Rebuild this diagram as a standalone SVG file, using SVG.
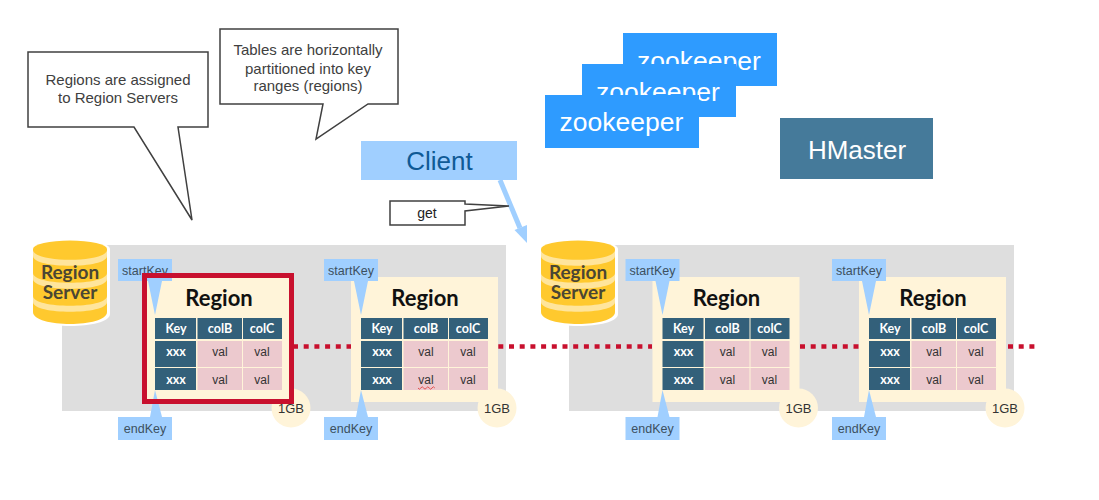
<svg xmlns="http://www.w3.org/2000/svg" width="1099" height="500" viewBox="0 0 1099 500">
<style>
text{font-family:"Liberation Sans",Arial,sans-serif;text-anchor:middle}
.call{fill:#fff;stroke:#404040;stroke-width:1.5;stroke-linejoin:miter}
.ct{font-size:15px;fill:#404040}
.panel{fill:#dedede}
.cream{fill:#fff4d9}
.k{fill:#a0cfff}
.kt{font-size:12.5px;fill:#3c5060}
.hd{fill:#33607a}
.cell{fill:#ecc9ce}
.rt{font-family:Lato,"Liberation Sans",sans-serif;font-weight:700;font-size:22px;fill:#111}
.th{font-family:Lato,"Liberation Sans",sans-serif;font-weight:700;font-size:12.5px;fill:#fff}
.td{font-size:12px;fill:#333}
.gb{font-size:13px;fill:#333}
.z{fill:#2e9bff}
.zt{font-size:26.500px;fill:#fff}
.big{font-size:26px}
.rs{font-family:Lato,"Liberation Sans",sans-serif;font-weight:700;font-size:19px;fill:#4a4634}
.y{fill:#ffc92e}.yl{fill:#ffe59c}
</style>
<defs>
<g id="regionBody">
<rect class="cream" x="-10" y="-41" width="147" height="125"/>
<circle class="cream" cx="136" cy="90" r="19.500"/>
<text class="gb" x="136" y="95">1GB</text>
<polygon class="k" points="-7,-37 7,-37 0,-3"/>
<polygon class="k" points="-5,99 7,99 0,72"/>
<rect class="k" x="-37" y="-59" width="54" height="22"/>
<text class="kt" x="-10" y="-43">startKey</text>
<rect class="k" x="-37" y="99" width="54" height="23"/>
<text class="kt" x="-10" y="115">endKey</text>
<text class="rt" x="64" y="-12">Region</text>
<rect class="hd" x="0" y="0" width="41" height="21"/>
<rect class="hd" x="42.500" y="0" width="44.500" height="21"/>
<rect class="hd" x="88" y="0" width="39" height="21"/>
<rect class="hd" x="0" y="23" width="41" height="26"/>
<rect class="hd" x="0" y="50" width="41" height="22"/>
<rect class="cell" x="42.500" y="23" width="44.500" height="26"/>
<rect class="cell" x="88" y="23" width="39" height="26"/>
<rect class="cell" x="42.500" y="50" width="44.500" height="22"/>
<rect class="cell" x="88" y="50" width="39" height="22"/>
<text class="th" x="21" y="15">Key</text>
<text class="th" x="65" y="14.500">colB</text>
<text class="th" x="107" y="14.500">colC</text>
<text class="th" x="21" y="38">xxx</text>
<text class="th" x="21" y="66">xxx</text>
<text class="td" x="65" y="38">val</text>
<text class="td" x="107" y="38">val</text>
<text class="td" x="65" y="66">val</text>
<text class="td" x="107" y="66">val</text>
</g>
<g id="cyl">
<path fill="#fff" d="M-3,9 C-3,-3 77,-3 77,9 V74 C77,90 -3,90 -3,74 Z"/>
<path class="y" d="M0,60 V72 C0,88 74,88 74,72 V60 Z"/>
<path class="yl" d="M0,56 V62 C0,75 74,75 74,62 V56 Z"/>
<path class="y" d="M0,38 V56 C0,69 74,69 74,56 V38 Z"/>
<path class="yl" d="M0,33 V39 C0,52 74,52 74,39 V33 Z"/>
<path class="y" d="M0,16 V33 C0,46 74,46 74,33 V16 Z"/>
<path class="yl" d="M0,9 V16 C0,29 74,29 74,16 V9 Z"/>
<path class="y" d="M0,9 V10 C0,23 74,23 74,10 V9 Z"/>
<ellipse class="y" cx="37" cy="9" rx="37" ry="8.500"/>
<text class="rs" x="37" y="39">Region</text>
<text class="rs" x="37" y="59">Server</text>
</g>
</defs>

<g id="panels">
<rect class="panel" x="62" y="245" width="444" height="166"/>
<rect class="panel" x="569" y="245" width="445" height="166"/>
</g>

<g id="connectors">
<path d="M293,346.500 H351 M498.300,346.500 H652 M800,346.500 H859 M1008,346.500 H1037" fill="none" stroke="#c8102e" stroke-width="4.500" stroke-dasharray="5 5.700"/>
<path d="M500,180 L520,228" stroke="#a0cfff" stroke-width="5" fill="none"/>
<polygon fill="#a0cfff" points="527,243 514.500,230 527,225"/>
</g>

<g id="region-server-1" transform="translate(33,240)"><use href="#cyl"/></g>
<g id="region-server-2" transform="translate(541,240)"><use href="#cyl"/></g>

<g id="region-2" transform="translate(361,318)"><use href="#regionBody"/>
<path d="M57,70 q1.400,2.400 2.800,0 t2.800,0 t2.800,0 t2.800,0 t2.800,0 t2.800,0" fill="none" stroke="#e04040" stroke-width="0.900"/></g>
<g id="region-3" transform="translate(662.500,318)"><use href="#regionBody"/></g>
<g id="region-4" transform="translate(869,318)"><use href="#regionBody"/></g>
<g id="region-1" transform="translate(155,318)"><use href="#regionBody"/>
<rect x="-10.500" y="-42.500" width="147" height="126" fill="none" stroke="#c8102e" stroke-width="5"/></g>

<g id="callout-regions">
<path class="call" d="M28,52 H208 V127 H178 L192,220 L134,127 H28 Z"/>
<text class="ct" x="118" y="85">Regions are assigned</text>
<text class="ct" x="118" y="103">to Region Servers</text>
</g>
<g id="callout-tables">
<path class="call" d="M220,29 H398 V104 H368 L316,139 L323,104 H220 Z"/>
<text class="ct" x="308" y="55">Tables are horizontally</text>
<text class="ct" x="308" y="74">partitioned into key</text>
<text class="ct" x="308" y="91">ranges (regions)</text>
</g>
<g id="callout-get">
<path class="call" d="M390,201 H465 V204 L509,206 L465,211 V225 H390 Z"/>
<text x="427" y="218" font-size="14" fill="#222">get</text>
</g>

<g id="client">
<rect class="k" x="361" y="141" width="156" height="39"/>
<text class="big" x="439.500" y="170" fill="#0f5a96">Client</text>
</g>
<g id="zookeeper-3"><rect class="z" x="623" y="33" width="154" height="53"/><text class="zt" x="699" y="70">zookeeper</text></g>
<g id="zookeeper-2"><rect class="z" x="582" y="64" width="154" height="53"/><text class="zt" x="658" y="101">zookeeper</text></g>
<g id="zookeeper-1"><rect class="z" x="545" y="95" width="154" height="53"/><text class="zt" x="621.500" y="131">zookeeper</text></g>
<g id="hmaster">
<rect x="780" y="118" width="153" height="61" fill="#457a9a"/>
<text class="big" x="857" y="159" fill="#fff">HMaster</text>
</g>
</svg>
